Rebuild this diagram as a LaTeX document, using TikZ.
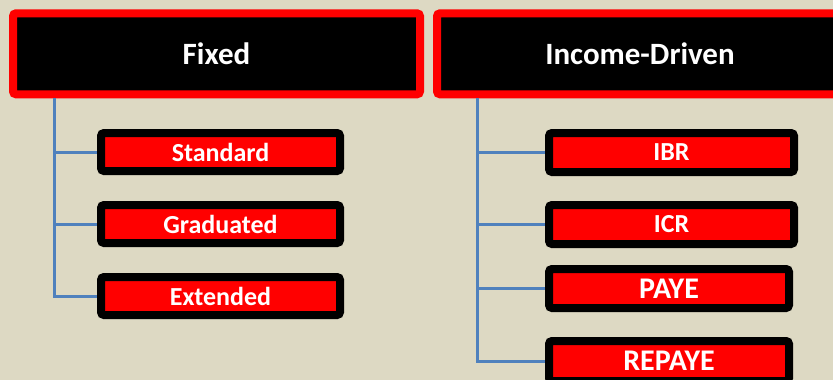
\documentclass[tikz,border=0pt]{standalone}
\usepackage{fontspec}
\setmainfont{Carlito}
\definecolor{bgtan}{RGB}{221,217,195}
\definecolor{connblue}{RGB}{79,129,189}
\definecolor{pureRed}{RGB}{255,0,0}
\tikzset{
  headbox/.style={draw=pureRed, fill=black, line width=8pt, rounded corners=3pt,
    text=white, font=\bfseries\fontsize{31}{31}\selectfont, inner sep=0pt, anchor=center},
  itembox/.style={draw=black, fill=pureRed, line width=8pt, rounded corners=3pt,
    text=white, font=\bfseries\fontsize{26}{26}\selectfont, inner sep=0pt, anchor=center},
  bigitem/.style={itembox, font=\bfseries\fontsize{30}{30}\selectfont},
  conn/.style={draw=connblue, line width=3pt}
}
\begin{document}
\begin{tikzpicture}[x=1pt,y=-1pt]
\useasboundingbox (0,0) rectangle (833,380);
\fill[bgtan] (0,0) rectangle (833,380);
\clip (0,0) rectangle (833,380);
% headers
\node[headbox, minimum width=407pt, minimum height=81pt] (fixed) at (216.5,53.8) {Fixed};
\node[headbox, minimum width=406pt, minimum height=81pt] (income) at (640,53.8) {Income-Driven};
% fixed items
\node[itembox, minimum width=239pt, minimum height=38pt] (std) at (220.5,152) {Standard};
\node[itembox, minimum width=239pt, minimum height=38pt] (grad) at (220.5,224) {Graduated};
\node[itembox, minimum width=239pt, minimum height=38pt] (ext) at (220.5,296) {Extended};
% income items
\node[itembox, minimum width=245pt, minimum height=39pt] (ibr) at (671.5,152.5) {IBR};
\node[itembox, minimum width=245pt, minimum height=39pt] (icr) at (671.5,224.5) {ICR};
\node[bigitem, minimum width=240pt, minimum height=39pt] (paye) at (669,288.5) {PAYE};
\node[bigitem, minimum width=240pt, minimum height=40pt] (repaye) at (669,361) {REPAYE};
% connectors
\coordinate (fl) at ([xshift=45pt]fixed.south west);
\coordinate (il) at ([xshift=44pt]income.south west);
\draw[conn] (fl) |- (std.west);
\draw[conn] (fl) |- (grad.west);
\draw[conn] (fl) |- (ext.west);
\draw[conn] (il) |- (ibr.west);
\draw[conn] (il) |- (icr.west);
\draw[conn] (il) |- (paye.west);
\draw[conn] (il) |- (repaye.west);
\end{tikzpicture}
\end{document}
